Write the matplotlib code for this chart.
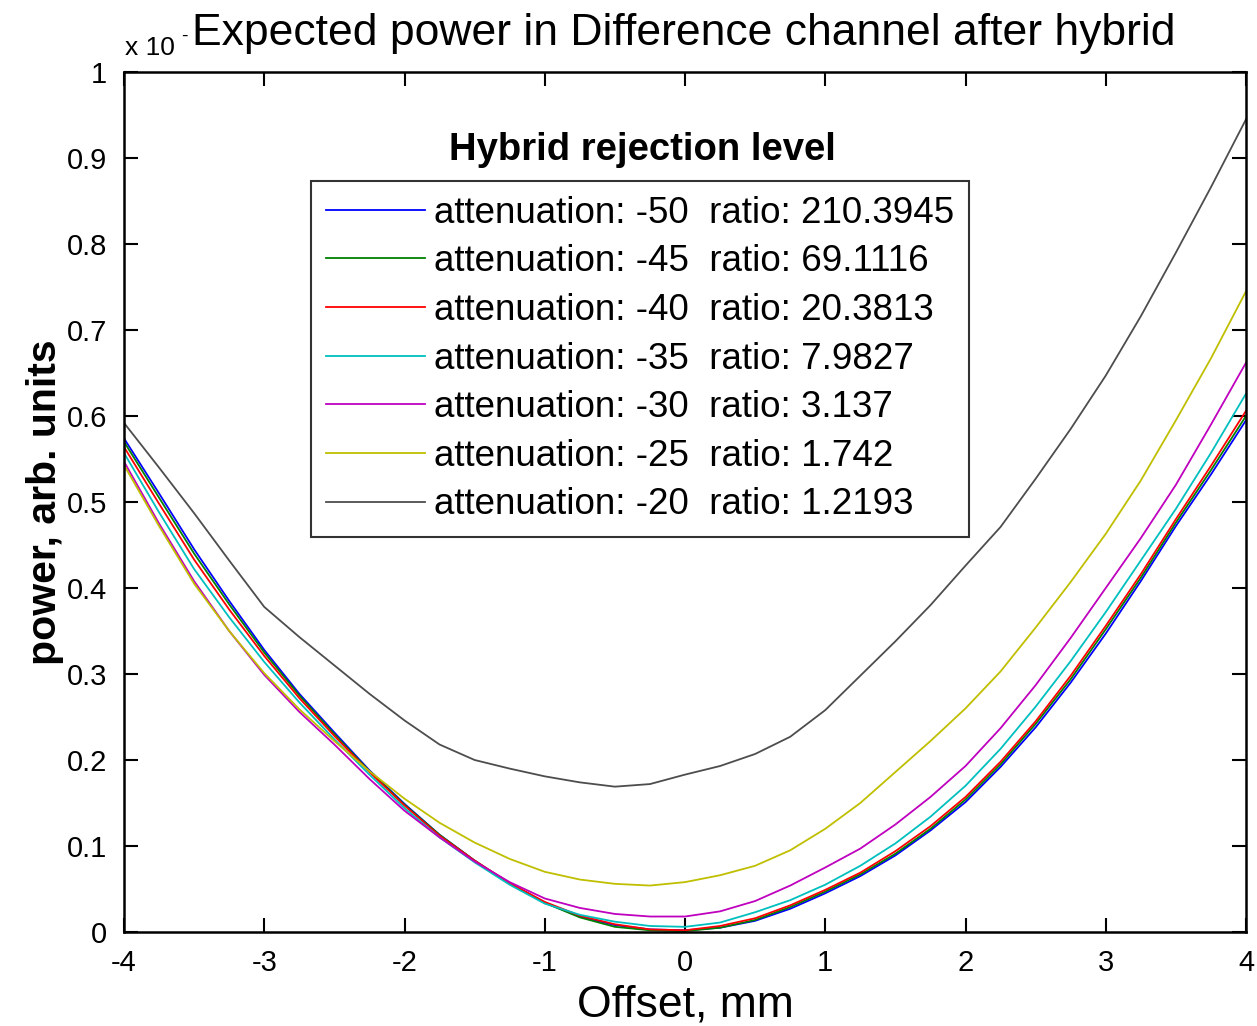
import matplotlib
matplotlib.use("Agg")
import matplotlib.pyplot as plt

plt.rcParams['font.family'] = ['Liberation Sans', 'DejaVu Sans']

# ---- data (power in units of 1e-?) ----
offset_mm = [-4.0, -3.75, -3.5, -3.25, -3.0, -2.75, -2.5, -2.25, -2.0,
             -1.75, -1.5, -1.25, -1.0, -0.75, -0.5, -0.25, 0.0,
             0.25, 0.5, 0.75, 1.0, 1.25, 1.5, 1.75, 2.0,
             2.25, 2.5, 2.75, 3.0, 3.25, 3.5, 3.75, 4.0]

att_m50 = [0.574, 0.510, 0.445, 0.385, 0.328, 0.277, 0.232, 0.188, 0.149,
           0.113, 0.083, 0.056, 0.034, 0.018, 0.008, 0.003, 0.002,
           0.005, 0.013, 0.027, 0.045, 0.065, 0.089, 0.118, 0.151,
           0.192, 0.238, 0.290, 0.347, 0.408, 0.472, 0.532, 0.595]
att_m45 = [0.570, 0.505, 0.440, 0.381, 0.325, 0.275, 0.230, 0.187, 0.148,
           0.113, 0.083, 0.056, 0.034, 0.017, 0.006, 0.002, 0.001,
           0.005, 0.014, 0.029, 0.047, 0.067, 0.091, 0.120, 0.154,
           0.195, 0.242, 0.294, 0.352, 0.412, 0.476, 0.537, 0.600]
att_m40 = [0.564, 0.498, 0.433, 0.375, 0.321, 0.272, 0.228, 0.186, 0.147,
           0.112, 0.083, 0.057, 0.035, 0.019, 0.009, 0.003, 0.002,
           0.007, 0.016, 0.031, 0.049, 0.069, 0.094, 0.123, 0.157,
           0.198, 0.245, 0.298, 0.356, 0.416, 0.480, 0.542, 0.606]
att_m35 = [0.557, 0.488, 0.422, 0.366, 0.314, 0.267, 0.224, 0.183, 0.144,
           0.110, 0.081, 0.055, 0.033, 0.020, 0.012, 0.007, 0.006,
           0.011, 0.023, 0.037, 0.055, 0.077, 0.103, 0.134, 0.170,
           0.213, 0.262, 0.315, 0.372, 0.432, 0.492, 0.557, 0.626]
att_m30 = [0.547, 0.475, 0.408, 0.350, 0.299, 0.256, 0.218, 0.178, 0.141,
           0.110, 0.082, 0.058, 0.039, 0.028, 0.021, 0.018, 0.018,
           0.024, 0.036, 0.054, 0.075, 0.097, 0.125, 0.157, 0.193,
           0.237, 0.287, 0.342, 0.400, 0.458, 0.520, 0.590, 0.662]
att_m25 = [0.543, 0.472, 0.405, 0.350, 0.301, 0.259, 0.222, 0.187, 0.155,
           0.127, 0.104, 0.085, 0.070, 0.061, 0.056, 0.054, 0.058,
           0.066, 0.077, 0.095, 0.120, 0.150, 0.186, 0.222, 0.260,
           0.303, 0.354, 0.407, 0.463, 0.525, 0.595, 0.667, 0.745]
att_m20 = [0.592, 0.540, 0.487, 0.432, 0.378, 0.343, 0.310, 0.277, 0.246,
           0.218, 0.200, 0.190, 0.181, 0.174, 0.169, 0.172, 0.183,
           0.193, 0.207, 0.227, 0.258, 0.298, 0.338, 0.380, 0.426,
           0.471, 0.527, 0.585, 0.647, 0.716, 0.790, 0.866, 0.945]

series = [att_m50, att_m45, att_m40, att_m35, att_m30, att_m25, att_m20]
attenuations = [-50, -45, -40, -35, -30, -25, -20]
ratios = ["210.3945", "69.1116", "20.3813", "7.9827", "3.137", "1.742", "1.2193"]
colors = [(0, 0, 1), (0, 0.5, 0), (1, 0, 0), (0, 0.75, 0.75),
          (0.75, 0, 0.75), (0.75, 0.75, 0), (0.3, 0.3, 0.3)]

xticks = [-4, -3, -2, -1, 0, 1, 2, 3, 4]
yticks = [0, 0.1, 0.2, 0.3, 0.4, 0.5, 0.6, 0.7, 0.8, 0.9, 1]
ytick_labels = ["0", "0.1", "0.2", "0.3", "0.4", "0.5", "0.6", "0.7", "0.8", "0.9", "1"]

fig = plt.figure(figsize=(12.57, 10.26), dpi=100)
ax = fig.add_axes([124 / 1257, 1 - 932 / 1026, 1122 / 1257, 860 / 1026])

for vals, att, rat, col in zip(series, attenuations, ratios, colors):
    ax.plot(offset_mm, vals, color=col, lw=1.3,
            label=f"attenuation: {att}  ratio: {rat}")

ax.set_xlim(-4, 4)
ax.set_ylim(0, 1)
ax.set_xticks(xticks)
ax.set_xticklabels([str(t) for t in xticks])
ax.set_yticks(yticks)
ax.set_yticklabels(ytick_labels)
ax.tick_params(direction='in', length=10, width=1.5, top=True, right=True,
               labelsize=21, pad=12)
for s in ax.spines.values():
    s.set_linewidth(1.8)

ax.set_xlabel("Offset, mm", fontsize=32, labelpad=6)
ax.set_ylabel("power, arb. units", fontsize=29.5, fontweight='bold', labelpad=2)

fig.text(684 / 1257, 1 - 33 / 1026, "Expected power in Difference channel after hybrid",
         fontsize=32, ha='center', va='center')
fig.text(125 / 1257, 1 - 48 / 1026, "x 10", fontsize=19, ha='left', va='center')
fig.text(181 / 1257, 1 - 36 / 1026, "-", fontsize=14, ha='left', va='center')

leg = ax.legend(loc='upper left', bbox_to_anchor=((311 - 124) / 1122, (932 - 181) / 860),
                fontsize=26.5, frameon=True, fancybox=False, edgecolor='black',
                handlelength=2.7, handletextpad=0.25, labelspacing=0.37,
                borderpad=0.4, borderaxespad=0)
leg.get_frame().set_linewidth(1.5)
ax.text((642 - 124) / 1122, (932 - 150) / 860, "Hybrid rejection level",
        transform=ax.transAxes, fontsize=27.5, fontweight='bold',
        ha='center', va='center')

fig.savefig("out.png", dpi=100)
